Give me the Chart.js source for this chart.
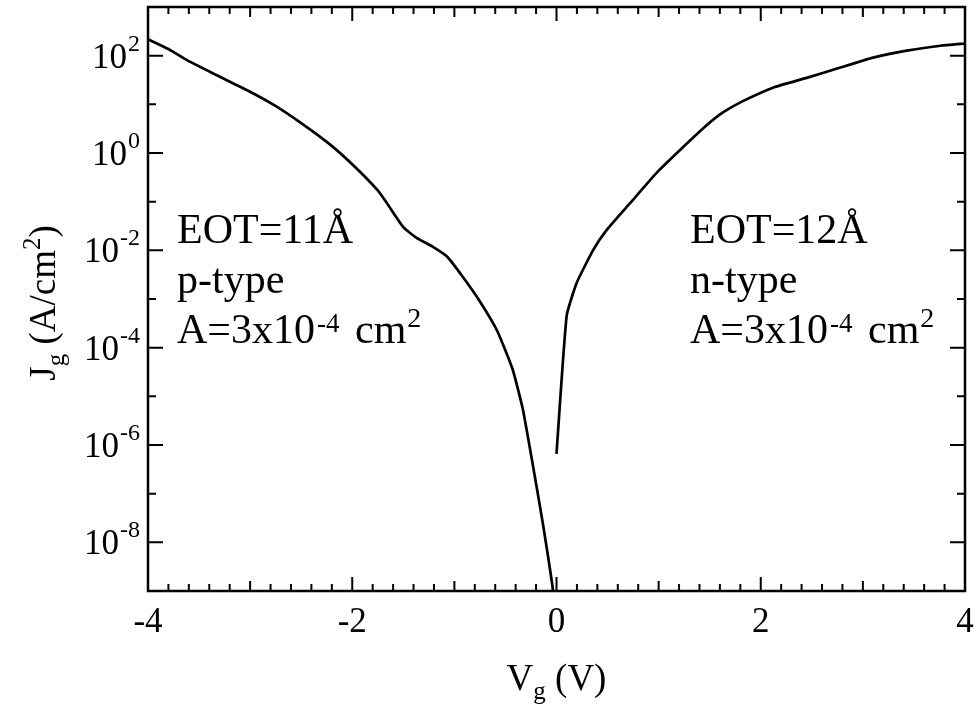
<!DOCTYPE html>
<html>
<head>
<meta charset="utf-8">
<script src="https://cdn.jsdelivr.net/npm/chart.js@4.4.0/dist/chart.umd.min.js"></script>
<style>
	body { margin: 0; background: #fff; }
	canvas { display: block; }
</style>
</head>
<body>
<canvas id="jg_chart" width="976" height="710"></canvas>
<script>
// gate voltage (V) and gate current density (A/cm2)
const vgP = [-4.0, -3.80, -3.61, -3.32, -3.02, -2.76, -2.50, -2.21, -1.97, -1.75, -1.66, -1.50, -1.37, -1.21, -1.07, -0.92, -0.75, -0.58, -0.43, -0.33, -0.23, -0.13, -0.04, -0.02];
const jgP = [218, 137, 79, 39, 19, 9.5, 4.1, 1.45, 0.51, 0.17, 0.093, 0.030, 0.018, 0.0118, 0.0074, 0.0029, 8.9e-4, 2.2e-4, 3.6e-5, 5.5e-6, 3.7e-7, 2.2e-8, 1.3e-9, 4e-10];
const vgN = [0.0, 0.10, 0.20, 0.36, 0.49, 0.72, 0.98, 1.21, 1.47, 1.63, 1.82, 2.12, 2.45, 2.78, 3.10, 3.43, 3.76, 4.0];
const jgN = [6.6e-7, 4.6e-4, 2.2e-3, 0.0102, 0.026, 0.093, 0.39, 1.15, 3.7, 6.8, 11.5, 22, 35, 57, 91, 127, 160, 178];

const xTickLabels = [-4, -2, 0, 2, 4];
const yTickExps = [2, 0, -2, -4, -6, -8];

const serif = '"Liberation Serif", "Times New Roman", serif';

function toPoints(xs, ys) {
	return xs.map(function(v, i) { return { x: v, y: ys[i] }; });
}

// draws pieces of text one after another: [text, size, dy, extra gap]
function drawRuns(ctx, runs, x, y) {
	let cx = x;
	runs.forEach(function(r) {
		ctx.font = r[1] + 'px ' + serif;
		ctx.fillText(r[0], cx, y + r[2]);
		cx += ctx.measureText(r[0]).width + (r[3] || 0);
	});
	return cx;
}
function runsWidth(ctx, runs) {
	let w = 0;
	runs.forEach(function(r) {
		ctx.font = r[1] + 'px ' + serif;
		w += ctx.measureText(r[0]).width + (r[3] || 0);
	});
	return w;
}

const framePlugin = {
	id: 'framePlugin',
	afterDraw(chart) {
		const ctx = chart.ctx;
		const a = chart.chartArea;
		const xs = chart.scales.x;
		const ys = chart.scales.y;
		ctx.save();
		ctx.strokeStyle = '#000';
		ctx.fillStyle = '#000';
		ctx.lineWidth = 2;
		ctx.beginPath();
		for (let i = -20; i <= 20; i++) {
			const px = xs.getPixelForValue(i / 5);
			let len = 7;
			if (i % 10 === 0) len = 14;
			else if (i % 5 === 0) len = 10;
			ctx.moveTo(px, a.bottom); ctx.lineTo(px, a.bottom - len);
			ctx.moveTo(px, a.top); ctx.lineTo(px, a.top + len);
		}
		for (let e = -9; e <= 3; e++) {
			const py = ys.getPixelForValue(Math.pow(10, e));
			const len = (e % 2 === 0) ? 15 : 8;
			ctx.moveTo(a.left, py); ctx.lineTo(a.left + len, py);
			ctx.moveTo(a.right, py); ctx.lineTo(a.right - len, py);
		}
		ctx.stroke();
		ctx.lineWidth = 2.5;
		ctx.strokeRect(a.left, a.top, a.right - a.left, a.bottom - a.top);

		// x tick labels
		ctx.textBaseline = 'alphabetic';
		ctx.textAlign = 'center';
		ctx.font = '35px ' + serif;
		xTickLabels.forEach(function(v) {
			ctx.fillText(String(v), xs.getPixelForValue(v), a.bottom + 41);
		});

		// y tick labels 10^n
		ctx.textAlign = 'left';
		yTickExps.forEach(function(e) {
			const py = ys.getPixelForValue(Math.pow(10, e));
			const runs = [['10', 35, 12, 1], [String(e), 24, -5]];
			const w = runsWidth(ctx, runs);
			drawRuns(ctx, runs, 140 - w, py);
		});

		// x title
		const xt = [['V', 37, 0], ['g', 25, 9], [' (V)', 37, 0]];
		drawRuns(ctx, xt, xs.getPixelForValue(0) - runsWidth(ctx, xt) / 2, 690);

		// y title
		const yt = [['J', 37, 0], ['g', 25, 9], [' (A/cm', 37, 0], ['2', 25, -15], [')', 37, 0]];
		ctx.save();
		ctx.translate(55, 303);
		ctx.rotate(-Math.PI / 2);
		drawRuns(ctx, yt, -runsWidth(ctx, yt) / 2, 0);
		ctx.restore();

		// annotations
		const notes = [[177, 'EOT=11\u00C5', 'p-type'], [690, 'EOT=12\u00C5', 'n-type']];
		notes.forEach(function(n) {
			drawRuns(ctx, [[n[1], 42, 0]], n[0], 243);
			drawRuns(ctx, [[n[2], 42, 0]], n[0], 293);
			drawRuns(ctx, [['A=3x10', 42, 0, 2], ['-4', 27, -11, 5], [' cm', 42, 0, 1], ['2', 28, -16]], n[0], 343);
		});
		ctx.restore();
	}
};

const ctx = document.getElementById('jg_chart');
const jg_chart = new Chart(ctx, {
	type: 'line',
	data: {
		datasets: [{
			label: 'p-type',
			data: toPoints(vgP, jgP),
			borderColor: '#000',
			borderWidth: 2.7,
			pointRadius: 0,
			tension: 0.15
		}, {
			label: 'n-type',
			data: toPoints(vgN, jgN),
			borderColor: '#000',
			borderWidth: 2.7,
			pointRadius: 0,
			tension: 0.15
		}]
	},
	options: {
		responsive: false,
		animation: false,
		layout: { padding: { left: 148, top: 7, right: 11, bottom: 119 } },
		plugins: {
			legend: { display: false },
			tooltip: { enabled: false }
		},
		scales: {
			x: {
				type: 'linear',
				min: -4,
				max: 4,
				grid: { display: false, drawTicks: false },
				border: { display: false },
				ticks: { display: false }
			},
			y: {
				type: 'logarithmic',
				min: 1e-9,
				max: 1e3,
				grid: { display: false, drawTicks: false },
				border: { display: false },
				ticks: { display: false }
			}
		}
	},
	plugins: [framePlugin]
});
</script>
</body>
</html>
